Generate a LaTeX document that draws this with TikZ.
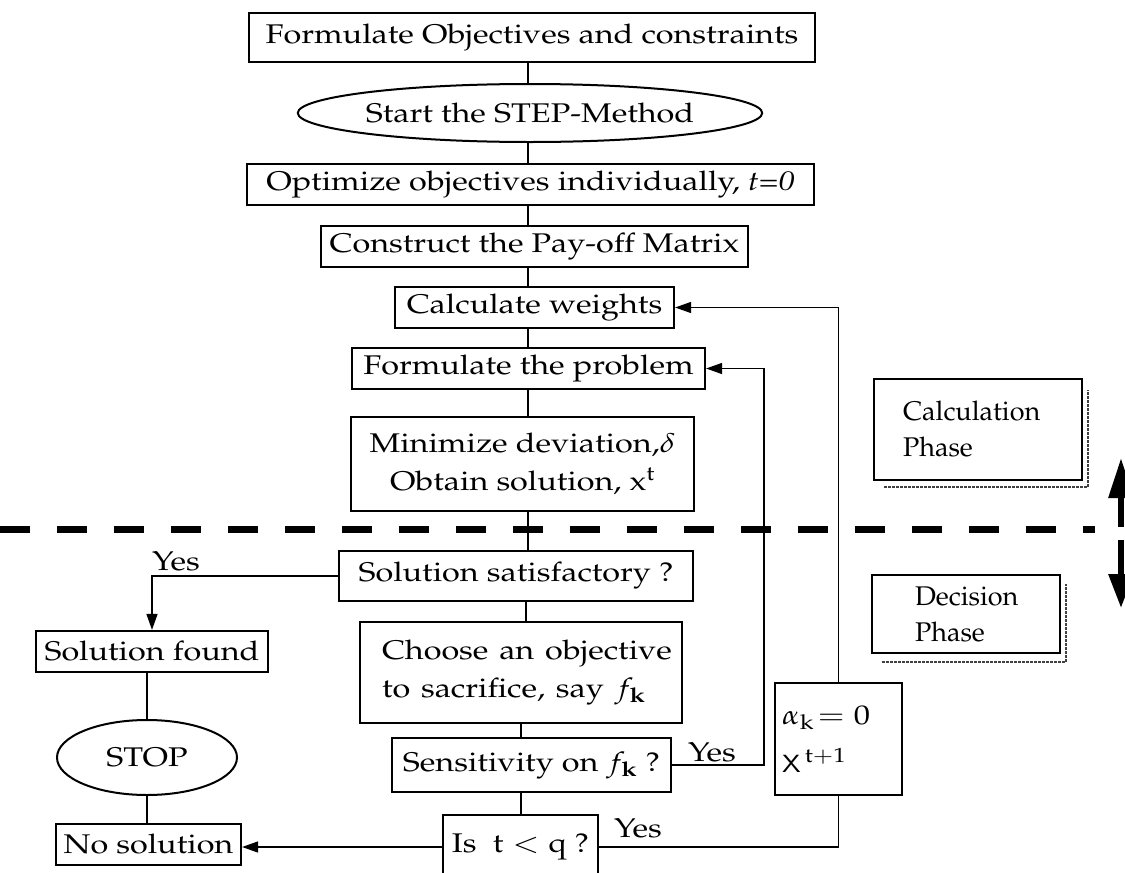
\documentclass[tikz,border=0pt]{standalone}
\usepackage[T1]{fontenc}
\usepackage{mathpazo}
\usetikzlibrary{arrows.meta,shapes.geometric,calc}
\newcommand{\boxfont}{\fontsize{27}{38}\selectfont}
\newcommand{\phasefont}{\fontsize{27}{36}\selectfont}
% the flow chart lettering is set a little wider than the font
\newcommand{\wide}[1]{\scalebox{1.2}[1]{#1}}
\begin{document}
\begin{tikzpicture}[x=1pt,y=-1pt,
  box/.style={draw,line width=2.2pt,inner sep=0pt,font=\boxfont,align=center},
  oval/.style={draw,ellipse,line width=2pt,inner sep=0pt,font=\boxfont},
  link/.style={line width=1.4pt},
  arr/.style={link,-{Triangle[length=16pt,width=11pt]}},
  lbl/.style={font=\boxfont,inner sep=0pt},
  phase/.style={draw,line width=1.8pt,fill=white,inner ysep=0pt,align=left,font=\phasefont},
  shade/.style={line width=2.4pt,black!75,dash pattern=on 3pt off 1pt},
  bigarrow/.style={line width=6pt},
]
\useasboundingbox (0,0) rectangle (1125,873);
\clip (0,0) rectangle (1125,873);

% spine positions of the vertical connectors
\coordinate (spineA) at (528,0);
\coordinate (spineB) at (526,0);
\coordinate (spineC) at (521,0);
\coordinate (r1) at (764,500);

% main flow
\node[box, minimum width=566pt, minimum height=49pt] (formob) at (532,37.5) {\wide{Formulate Objectives and constraints}};
\node[oval, minimum width=414pt, minimum height=58pt] (start) at (530,113) {\wide{Start the STEP-Method}};
\node[box, minimum width=567pt, minimum height=41pt] (optim) at (530.5,184.5) {\wide{Optimize objectives individually, \textit{t=0}}};
\node[box, minimum width=427pt, minimum height=41pt] (payoff) at (534.5,246.5) {\wide{Construct the Pay-off Matrix}};
\node[box, minimum width=279pt, minimum height=41pt] (weights) at (534.5,307.5) {\wide{Calculate weights}};
\node[box, minimum width=353pt, minimum height=41pt] (formpb) at (528.5,368.5) {\wide{Formulate the problem}};
\node[box, minimum width=343pt, minimum height=94pt] (minim) at (522.5,464) {\wide{Minimize deviation,$\delta$}\\ \wide{Obtain solution, x\textsuperscript{t}}};
\node[box, minimum width=354pt, minimum height=50pt] (satis) at (516,576) {\wide{Solution satisfactory ?}};
\node[box, minimum width=232pt, minimum height=41pt] (found) at (152,651.5) {\wide{Solution found}};
\node[box, minimum width=322pt, minimum height=101pt, align=left, text width=278pt, inner xsep=22pt] (choose) at (521,672.5) {\wide{Choose an objective}\\ \wide{to sacrifice, say $f_{\mathbf{k}}$}};
\node[oval, minimum width=180pt, minimum height=75pt] (stop) at (147,757.5) {\wide{STOP}};
\node[box, minimum width=279pt, minimum height=54pt] (sens) at (531.5,765) {\wide{Sensitivity on $f_{\mathbf{k}}$ ?}};
\node[box, minimum width=127pt, minimum height=112pt, align=left, text width=113pt, inner xsep=7pt] (alpha) at (838.5,739) {\wide{$\alpha_{\mathrm{k}}\!=0$}\\[10pt] \wide{$\mathsf{X}^{\,\mathrm{t+1}}$}};
\node[box, minimum width=155pt, minimum height=64pt] (tq) at (520.5,847) {\wide{Is \ $\mathrm{t<q}$ ?}};
\node[box, minimum width=185pt, minimum height=41pt] (nosol) at (148.5,844.5) {\wide{No solution}};

% labels
\node[lbl] (yes1) at (176,561) {\wide{Yes}};
\node[lbl] (yes2) at (712,752) {\wide{Yes}};
\node[lbl] (yes3) at (638,828) {\wide{Yes}};

% vertical connectors
\draw[link] (spineA |- formob.south) -- (spineA |- start.north);
\draw[link] (spineA |- start.south) -- (spineA |- optim.north);
\draw[link] (spineA |- optim.south) -- (spineA |- payoff.north);
\draw[link] (spineA |- payoff.south) -- (spineA |- weights.north);
\draw[link] (spineA |- weights.south) -- (spineA |- formpb.north);
\draw[link] (spineA |- formpb.south) -- (spineA |- minim.north);
\draw[link] (spineA |- minim.south) -- (spineA |- satis.north);
\draw[link] (spineB |- satis.south) -- (spineB |- choose.north);
\draw[link] (spineC |- choose.south) -- (spineC |- sens.north);
\draw[link] (spineC |- sens.south) -- (spineC |- tq.north);
\draw[link] (stop.north) -- (stop.north |- found.south);
\draw[link] (stop.south) -- (stop.south |- nosol.north);

% branches and feedback loops
\draw[arr] (satis.west) -| (found.north);
\draw[arr] (sens.east) -| (r1) |- (formpb.east);
\draw[arr] (alpha.north) |- (weights.east);
\draw[link] (tq.east) -| (alpha.south);
\draw[arr] (tq.west) -- (tq.west -| nosol.east);

% phase separator
\draw[line width=7pt, dash pattern=on 30pt off 27pt] (0,529) -- (1095,529);
\draw[bigarrow,-{Triangle[length=40pt,width=24pt]}] (1121,527) -- (1121,458);
\draw[bigarrow,-{Triangle[length=34pt,width=24pt]}] (1121,540) -- (1121,608);

% phase boxes with shadow
\coordinate (calcC) at (978,429.5);
\coordinate (deciC) at (966,614);
\draw[shade] ($(calcC)+(-94,57.5)$) -| ($(calcC)+(110,-40)$);
\node[phase, minimum width=208pt, minimum height=101pt, text width=150pt, inner xsep=29pt] (calc) at (calcC) {Calculation\\Phase};
\draw[shade] ($(deciC)+(-84,48)$) -| ($(deciC)+(100,-30)$);
\node[phase, minimum width=188pt, minimum height=78pt, text width=102pt, inner xsep=43pt] (deci) at (deciC) {Decision\\Phase};
\end{tikzpicture}
\end{document}
